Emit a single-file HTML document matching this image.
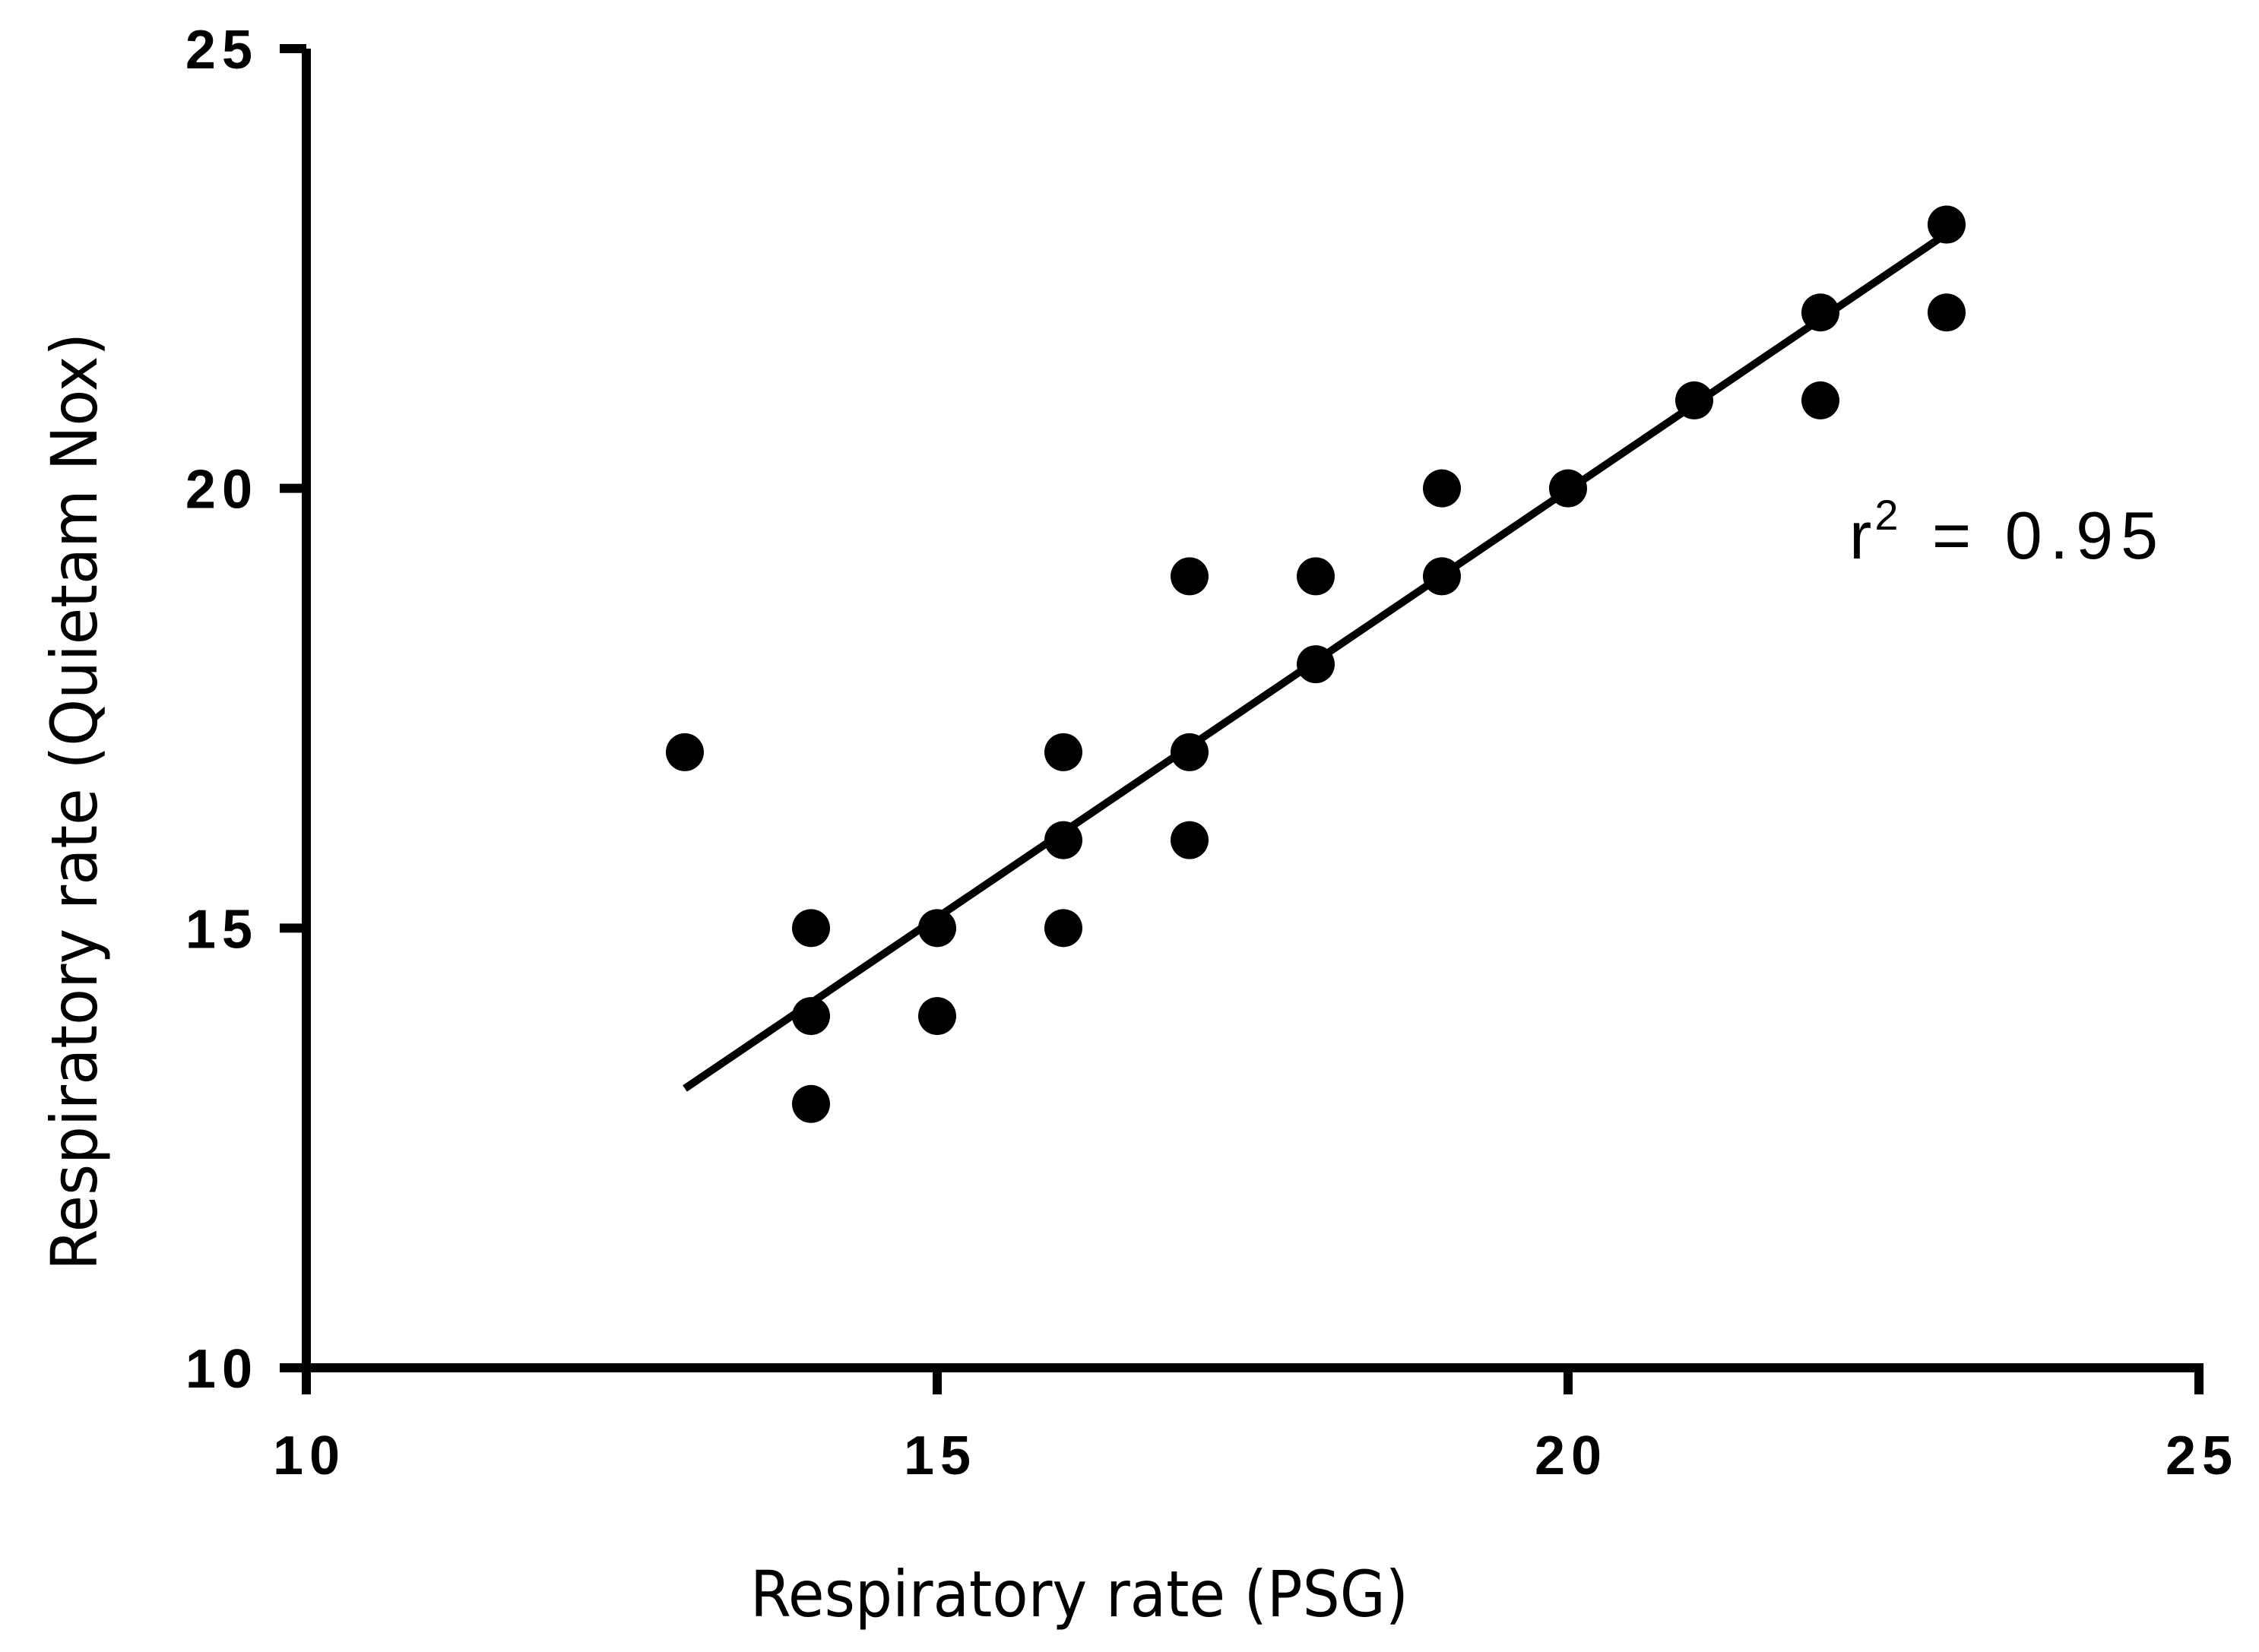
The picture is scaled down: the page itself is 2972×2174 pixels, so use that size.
<!DOCTYPE html>
<html><head><meta charset="utf-8"><style>
html,body{margin:0;padding:0;background:#fff;}
svg{display:block;}
</style></head><body>
<svg id="chart" width="2972" height="2174" viewBox="0 0 2972 2174" xmlns="http://www.w3.org/2000/svg">
<rect width="2972" height="2174" fill="#fff"/>
<g id="axes"></g>
<g id="marks"></g>
<text x="1420" y="2127" text-anchor="middle" font-family="DejaVu Sans Condensed, DejaVu Sans, sans-serif" font-size="84" textLength="866" lengthAdjust="spacingAndGlyphs">Respiratory rate (PSG)</text>
<text transform="translate(127,1055) rotate(-90)" text-anchor="middle" font-family="DejaVu Sans Condensed, DejaVu Sans, sans-serif" font-size="84" textLength="1234" lengthAdjust="spacingAndGlyphs">Respiratory rate (Quietam Nox)</text>
<text x="2433" y="735" font-family="Liberation Sans, sans-serif" font-size="88" letter-spacing="10">r<tspan dx="-6" dy="-38" font-size="56">2</tspan><tspan dy="38"> = 0.95</tspan></text>
</svg>
<script>
const xVals = [13,14,14,14,15,15,16,16,16,17,17,17,18,18,19,19,20,21,22,22,23,23];
const yVals = [17,15,14,13,15,14,17,16,15,19,17,16,19,18,20,19,20,21,22,21,23,22];
const xTicks = [10,15,20,25];
const yTicks = [10,15,20,25];
const fitSlope = [0.972];
const fitIntercept = [0.54];
const fitRange = [13,23];

const NS='http://www.w3.org/2000/svg';
const X0=403,X1=2893,Y0=1800,Y1=64;
function sx(v){return X0+(v-10)/15*(X1-X0);}
function sy(v){return Y0-(v-10)/15*(Y0-Y1);}
function mk(tag,attrs,parent){const e=document.createElementNS(NS,tag);for(const k in attrs)e.setAttribute(k,attrs[k]);parent.appendChild(e);return e;}
const axes=document.getElementById('axes');
const marks=document.getElementById('marks');

let yl=mk('line',{x1:X0,y1:Y1,x2:X0,y2:Y0+6,stroke:'#000','stroke-width':12},axes);


let xl=mk('line',{x1:X0-6,y1:Y0,x2:X1+6,y2:Y0,stroke:'#000','stroke-width':12},axes);



yTicks.forEach(t=>{
  const y=sy(t);
  const tk=mk('line',{x1:X0-35,y1:y,x2:X0,y2:y,stroke:'#000','stroke-width':12},axes);
  
  
  const tx=mk('text',{x:340,y:y+26,'text-anchor':'end','font-family':'Liberation Sans, sans-serif','font-size':72,'font-weight':'bold','letter-spacing':8},axes);
  tx.textContent=t;
  
  
});
xTicks.forEach(t=>{
  const x=sx(t);
  const tk=mk('line',{x1:x,y1:Y0,x2:x,y2:Y0+35,stroke:'#000','stroke-width':12},axes);
  
  
  const tx=mk('text',{x:x+4,y:1940,'text-anchor':'middle','font-family':'Liberation Sans, sans-serif','font-size':72,'font-weight':'bold','letter-spacing':8},axes);
  tx.textContent=t;
  
  
});

const fl=mk('line',{x1:sx(fitRange[0]),y1:sy(fitSlope[0]*fitRange[0]+fitIntercept[0]),x2:sx(fitRange[1]),y2:sy(fitSlope[0]*fitRange[1]+fitIntercept[0]),stroke:'#000','stroke-width':10},marks);



xVals.forEach((xv,i)=>{
  const c=mk('circle',{cx:sx(xv),cy:sy(yVals[i]),r:25,fill:'#000'},marks);
  
  
});
</script>
</body></html>
